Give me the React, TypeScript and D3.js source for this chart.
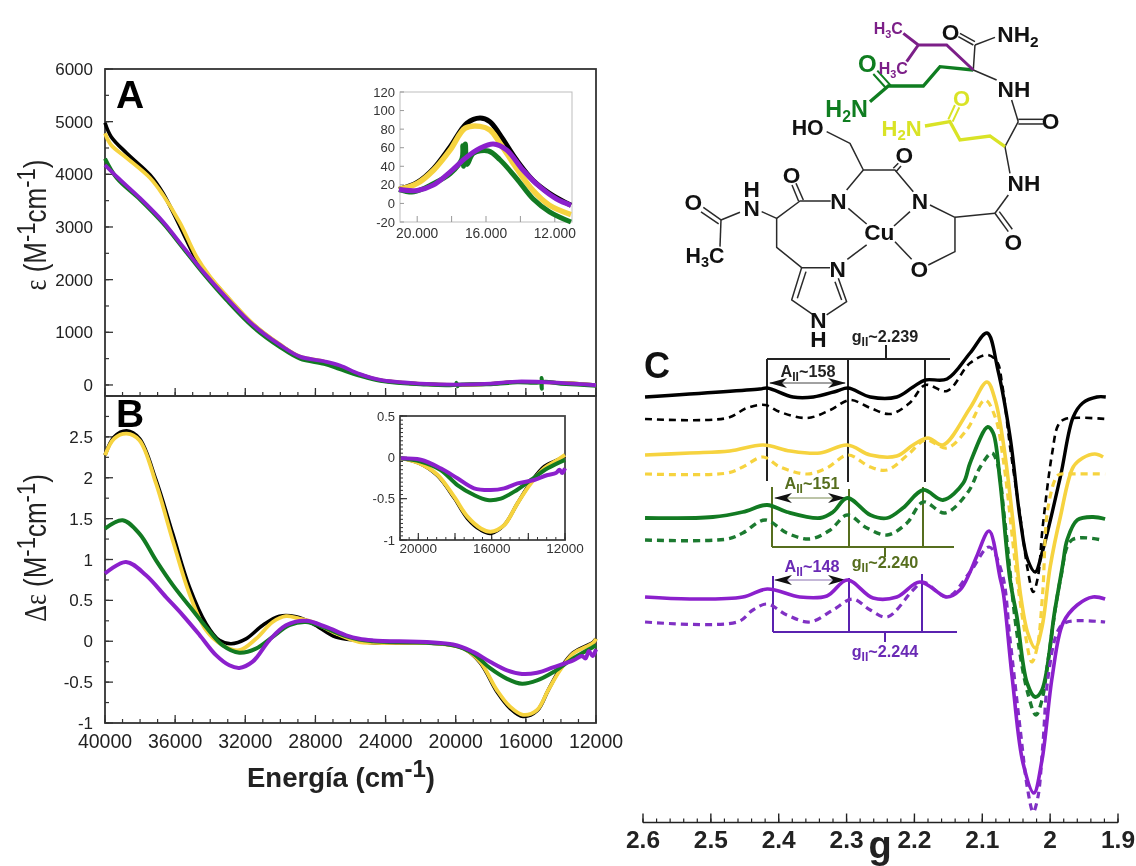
import React from "react";
import * as d3 from "d3";

type P = [number, number];

// ---------- Panel A: absorption (wavenumber cm-1, epsilon)
const absBlack: P[] = [[40000,4980],[39650,4715],[38760,4400],[37430,3987],[36690,3640],[35720,3007],[34780,2373],[34200,2120],[33060,1680],[31550,1150],[30020,760],[28880,530],[27500,440],[26600,330],[25500,200],[24300,90],[22000,20],[20000,0],[18000,20],[16500,60],[14000,40],[12000,0]];
const absYellow: P[] = [[40000,4780],[39650,4557],[38760,4310],[37430,3930],[36690,3607],[35720,3075],[34780,2436],[34010,2056],[33060,1690],[31550,1160],[30020,770],[28880,540],[27500,445],[26600,340],[25500,200],[24300,90],[22000,20],[20000,0],[18000,22],[16500,58],[14000,38],[12000,-5]];
const absGreen: P[] = [[40000,4300],[39330,3930],[38000,3520],[36690,3070],[35550,2600],[34400,2120],[33060,1610],[31550,1100],[30020,720],[28880,500],[27500,400],[26600,300],[25500,180],[24300,80],[22000,15],[20000,10],[19950,40],[19900,-25],[19850,0],[18000,15],[16500,50],[15120,60],[15100,130],[15090,-70],[15070,50],[14000,25],[12000,-15]];
const absPurple: P[] = [[40000,4177],[39330,3955],[38000,3546],[36690,3100],[35550,2626],[34400,2150],[33060,1652],[31550,1140],[30020,760],[28880,538],[27500,450],[26600,370],[25500,210],[24300,95],[22000,25],[20000,5],[18000,25],[16500,65],[14000,40],[12000,-5]];

// Inset A
const inABlack: P[] = [[21058,15],[20000,22.6],[19040,37.7],[18080,61],[17115,86.4],[16350,92],[15770,88],[15190,74],[14230,47],[13270,25],[12310,11],[11060,-2]];
const inAYellow: P[] = [[21058,15],[20000,21.5],[19040,36],[18080,57.6],[17210,81],[16350,83],[15770,79],[15190,65],[14230,38],[13270,14],[12310,-2],[11060,-12]];
const inAGreen: P[] = [[21058,15],[20190,12.5],[19040,21.5],[18080,32],[17400,48],[17350,62],[17300,40],[17200,64],[17100,42],[16730,54],[15860,56.5],[15190,47],[14230,27],[13270,5],[12310,-9],[11060,-20]];
const inAPurple: P[] = [[21058,15],[20000,14],[19040,20],[18080,34],[17115,50],[16350,59.4],[15580,64],[14800,57.6],[13850,36],[12880,18],[11920,5],[11060,-2]];

// ---------- Panel B: CD (wavenumber cm-1, delta epsilon)
const cdBlack: P[] = [[40000,2.276],[39470,2.5],[38760,2.573],[38040,2.48],[37090,1.97],[36140,1.317],[35190,0.665],[34240,0.216],[33480,0.012],[32810,-0.03],[31960,0.03],[31000,0.196],[30060,0.306],[29100,0.3],[28150,0.216],[26830,0.05],[25500,0.01],[24700,-0.02],[20900,-0.03],[19580,-0.085],[18610,-0.26],[17640,-0.62],[16900,-0.82],[16160,-0.92],[15360,-0.85],[14730,-0.6],[14050,-0.34],[13300,-0.14],[12160,-0.01],[12000,0.03]];
const cdYellow: P[] = [[40000,2.276],[39470,2.48],[38760,2.54],[38040,2.46],[37090,1.93],[36140,1.236],[35190,0.583],[34240,0.135],[33290,-0.05],[32340,-0.11],[31390,0.03],[30440,0.236],[29680,0.306],[28920,0.277],[28150,0.236],[27010,0.114],[25500,-0.01],[24700,-0.02],[20900,-0.03],[19580,-0.085],[18610,-0.25],[17640,-0.6],[16900,-0.8],[16160,-0.9],[15360,-0.84],[14730,-0.6],[14050,-0.355],[13300,-0.15],[12160,-0.02],[12000,0.03]];
const cdGreen: P[] = [[40000,1.378],[38990,1.48],[38040,1.317],[37090,0.99],[36140,0.69],[35190,0.43],[34240,0.175],[33290,-0.05],[32340,-0.14],[31390,-0.09],[30440,0.053],[29490,0.196],[28540,0.236],[27590,0.175],[26640,0.09],[25500,0.02],[24700,0],[20150,-0.05],[19010,-0.15],[18040,-0.33],[17070,-0.46],[16220,-0.52],[15360,-0.48],[14450,-0.38],[13300,-0.21],[12160,-0.07],[12000,-0.05]];
const cdPurple: P[] = [[40000,0.828],[38800,0.97],[37660,0.807],[36520,0.54],[35570,0.32],[34620,0.08],[33670,-0.17],[32910,-0.294],[32340,-0.326],[31580,-0.25],[30630,0.012],[29680,0.196],[28540,0.25],[27390,0.175],[26250,0.073],[25500,0.03],[24700,0.01],[20150,-0.04],[19010,-0.13],[18040,-0.25],[17070,-0.355],[16220,-0.4],[15360,-0.385],[14450,-0.32],[13300,-0.235],[12800,-0.18],[12600,-0.21],[12400,-0.12],[12200,-0.18],[12000,-0.1]];

// Inset B
const inBBlack: P[] = [[20965,-0.012],[19960,-0.07],[18960,-0.22],[18050,-0.49],[17320,-0.74],[16590,-0.88],[16050,-0.92],[15320,-0.82],[14590,-0.556],[13860,-0.3],[13130,-0.11],[12400,-0.03],[12000,0.02]];
const inBYellow: P[] = [[20965,-0.012],[19960,-0.07],[18960,-0.21],[18050,-0.476],[17320,-0.718],[16590,-0.86],[16050,-0.9],[15320,-0.82],[14590,-0.556],[13860,-0.315],[13130,-0.133],[12400,-0.03],[12000,0.03]];
const inBGreen: P[] = [[20965,-0.012],[19870,-0.05],[18780,-0.153],[17870,-0.335],[16960,-0.456],[16230,-0.516],[15500,-0.5],[14770,-0.415],[13860,-0.274],[12950,-0.133],[12000,-0.03]];
const inBPurple: P[] = [[20965,-0.012],[19870,-0.03],[18780,-0.133],[17870,-0.254],[16960,-0.375],[16050,-0.395],[15320,-0.375],[14590,-0.315],[13680,-0.274],[12950,-0.214],[12500,-0.19],[12300,-0.15],[12150,-0.19],[12000,-0.133]];

// ---------- Panel C: EPR (g value, offset intensity)
const eprBlack: P[] = [[2.597,425],[2.428,433],[2.417,434],[2.379,425],[2.349,425],[2.314,431],[2.298,434],[2.265,425],[2.226,425],[2.202,435],[2.184,442],[2.152,443],[2.118,469],[2.093,489],[2.077,452],[2.059,385],[2.044,302],[2.033,262],[2.022,250],[2.012,269],[1.985,345],[1.966,405],[1.952,419],[1.931,425],[1.918,425]];
const eprBlackD: P[] = [[2.597,403],[2.476,404],[2.447,414],[2.420,417],[2.398,410],[2.358,404],[2.324,412],[2.295,422],[2.265,414],[2.236,408],[2.207,419],[2.184,437],[2.152,431],[2.118,459],[2.092,467],[2.078,460],[2.071,439],[2.059,375],[2.044,305],[2.033,252],[2.025,230],[2.018,245],[2.011,295],[1.997,369],[1.988,397],[1.978,403],[1.918,403]];
const eprYellow: P[] = [[2.597,367],[2.531,369],[2.472,371],[2.423,377],[2.383,371],[2.339,369],[2.299,377],[2.265,367],[2.226,366],[2.202,377],[2.180,384],[2.158,377],[2.118,414],[2.093,440],[2.081,422],[2.069,379],[2.055,302],[2.044,229],[2.033,189],[2.022,174],[2.012,195],[2.000,255],[1.985,305],[1.966,355],[1.952,364],[1.934,368],[1.922,365]];
const eprYellowD: P[] = [[2.597,348],[2.476,349],[2.453,355],[2.423,365],[2.398,355],[2.358,348],[2.329,354],[2.298,367],[2.265,355],[2.240,352],[2.207,369],[2.184,382],[2.152,374],[2.123,392],[2.096,422],[2.081,405],[2.069,362],[2.049,245],[2.037,189],[2.027,160],[2.019,175],[2.011,229],[2.003,315],[1.988,347],[1.975,348],[1.919,348]];
const eprGreen: P[] = [[2.597,304],[2.497,305],[2.453,310],[2.417,317],[2.388,310],[2.339,304],[2.320,310],[2.299,324],[2.265,307],[2.240,304],[2.217,314],[2.187,332],[2.158,322],[2.128,339],[2.118,359],[2.092,395],[2.084,389],[2.074,342],[2.059,242],[2.049,205],[2.034,139],[2.022,125],[2.012,132],[1.993,212],[1.981,259],[1.975,282],[1.960,302],[1.937,305],[1.919,303]];
const eprGreenD: P[] = [[2.597,282],[2.476,283],[2.453,289],[2.420,302],[2.388,289],[2.354,283],[2.324,292],[2.299,307],[2.270,294],[2.240,287],[2.211,299],[2.187,320],[2.155,309],[2.121,330],[2.103,355],[2.086,369],[2.078,359],[2.067,302],[2.049,189],[2.033,129],[2.021,107],[2.012,122],[2.003,162],[1.985,242],[1.968,282],[1.924,282]];
const eprPurple: P[] = [[2.597,225],[2.531,223],[2.453,225],[2.417,233],[2.369,225],[2.329,226],[2.299,242],[2.261,224],[2.226,225],[2.192,240],[2.152,225],[2.133,232],[2.118,250],[2.108,266],[2.090,291],[2.074,245],[2.069,229],[2.056,145],[2.040,59],[2.024,29],[2.012,62],[1.997,145],[1.981,199],[1.960,217],[1.937,225],[1.919,223]];
const eprPurpleD: P[] = [[2.597,200],[2.461,200],[2.438,212],[2.417,218],[2.388,207],[2.354,200],[2.320,212],[2.291,223],[2.265,212],[2.240,205],[2.202,232],[2.187,240],[2.152,225],[2.118,250],[2.090,275],[2.071,249],[2.059,182],[2.044,92],[2.033,32],[2.025,10],[2.018,25],[2.011,75],[2.003,145],[1.988,192],[1.975,200],[1.919,200]];

const tickYA = d3.range(0, 6001, 1000);
const tickYB = [-1, -0.5, 0, 0.5, 1, 1.5, 2, 2.5];
const tickX = d3.range(40000, 11999, -4000);
const tickInAY = d3.range(-20, 121, 20);
const tickInAX = [20000, 16000, 12000];
const tickInBY = [0.5, 0, -0.5, -1];
const tickInBX = [20000, 16000, 12000];
const tickG = [2.6, 2.5, 2.4, 2.3, 2.2, 2.1, 2, 1.9];

const BLACK = "#000000";
const YELLOW = "#f6d33f";
const GREEN = "#127a22";
const PURPLE = "#8b20cc";
const SANS = "'Liberation Sans', Arial, sans-serif";

const xMain = d3.scaleLinear().domain([40000, 12000]).range([105, 596]);
const yA = d3.scaleLinear().domain([-200, 6000]).range([395.5, 69]);
const yB = d3.scaleLinear().domain([-1, 3]).range([723, 396]);
const xInA = d3.scaleLinear().domain([21000, 11000]).range([400, 572]);
const yInA = d3.scaleLinear().domain([-20, 120]).range([222, 92]);
const xInB = d3.scaleLinear().domain([21000, 12000]).range([400, 565]);
const yInB = d3.scaleLinear().domain([-1, 0.5]).range([540, 416]);
const xG = d3.scaleLinear().domain([2.6, 1.9]).range([643, 1118]);
const yE = d3.scaleLinear().domain([0, 800]).range([822, 22]);

function Curve({ data, x, y, color, w, dash }: { data: P[]; x: any; y: any; color: string; w: number; dash?: string }) {
  const gen = d3.line<P>().x((d) => x(d[0])).y((d) => y(d[1])).curve(d3.curveCatmullRom.alpha(0.5));
  return <path d={gen(data) || ""} fill="none" stroke={color} strokeWidth={w} strokeDasharray={dash} strokeLinejoin="round" />;
}

function Ticks({ vals, scale, at, dir, len, orient, color, w }: { vals: number[]; scale: any; at: number; dir: number; len: number; orient: "x" | "y"; color: string; w: number }) {
  return (
    <g stroke={color} strokeWidth={w}>
      {vals.map((v, i) =>
        orient === "x" ? (
          <line key={i} x1={scale(v)} x2={scale(v)} y1={at} y2={at + dir * len} />
        ) : (
          <line key={i} y1={scale(v)} y2={scale(v)} x1={at} x2={at + dir * len} />
        )
      )}
    </g>
  );
}

function Sub({ a, b, c, x, y, size, color, anchor = "middle", weight = "bold", ratio = 0.68, shift = 0.22 }: any) {
  const s = size * ratio;
  return (
    <text x={x} y={y} fontSize={size} fill={color} textAnchor={anchor} fontWeight={weight} fontFamily={SANS}>
      {a}
      <tspan fontSize={s} dy={size * shift}>{b}</tspan>
      <tspan fontSize={size} dy={-size * shift}>{c ?? ""}</tspan>
    </text>
  );
}

function Hyper({ label, sub, rest, x, y, color }: any) {
  return <Sub a={label} b={sub} c={rest} x={x} y={y} size={16.2} color={color} ratio={0.75} />;
}

function Molecule() {
  const thin = { stroke: "#2a2a2a", strokeWidth: 4.5, fill: "none", strokeLinejoin: "round" as const };
  const bonds = [
    "M190 622L243 660", "M183 636L236 672", "M243 660L300 637", "M243 660L240 740",
    "M365 635L410 655L480 603L572 603", "M490 600L468 550", "M476 604L456 555",
    "M410 655L410 742L485 803L570 803", "M485 803L455 900L520 945", "M498 815L472 895", "M595 835L620 905L560 945", "M585 845L605 900",
    "M620 570L670 510L630 430L560 395", "M670 510L765 510L820 575", "M760 505L775 490", "M768 515L783 498",
    "M625 625L680 672", "M810 635L762 678", "M680 735L622 778", "M765 725L815 778", "M865 795L945 755L945 652L870 615", "M945 652L1065 640",
    "M1065 640L1105 695", "M1078 635L1117 688", "M1065 640L1105 585", "M1110 520L1095 440L1135 365", "M1135 358L1210 358", "M1135 372L1210 372", "M1135 365L1115 300",
    "M1070 240L1000 210L1005 135", "M1000 135L955 110", "M1005 125L960 100", "M1005 135L1065 112",
  ];
  const T = ({ x, y, s = 68, c = "#111", t }: any) => (
    <text x={x} y={y} fontSize={s} fill={c} fontWeight="bold" fontFamily={SANS} textAnchor="middle">{t}</text>
  );
  const gc = "#0f7d20", yc = "#d9e326", pc = "#7c1f88";
  return (
    <g transform="translate(640 0) scale(0.3333)">
      {bonds.map((d, i) => <path key={i} d={d} {...thin} />)}
      <path d="M1000 210L900 200L850 258L745 258L690 305" fill="none" stroke={gc} strokeWidth={10} />
      <path d="M752 256L712 212M738 264L700 222" fill="none" stroke={gc} strokeWidth={6} />
      <path d="M1095 440L1050 408L960 420L930 365L855 378" fill="none" stroke={yc} strokeWidth={10} />
      <path d="M938 365L958 322M925 358L945 315" fill="none" stroke={yc} strokeWidth={6} />
      <path d="M1000 210L920 135L835 135L790 100M835 135L800 185" fill="none" stroke={pc} strokeWidth={9} />
      <T x={160} y={630} t="O" /><T x={335} y={648} t="N" /><T x={335} y={592} t="H" />
      <Sub a="H" b="3" c="C" x={195} y={788} size={64} color="#111" />
      <T x={455} y={550} t="O" /><T x={595} y={628} t="N" /><T x={593} y={830} t="N" />
      <T x={503} y={405} t="HO" s={64} /><T x={793} y={488} t="O" /><T x={840} y={628} t="N" />
      <T x={718} y={720} t="Cu" s={68} /><T x={838} y={830} t="O" /><T x={1120} y={750} t="O" />
      <T x={1152} y={574} t="NH" /><T x={1232} y={387} t="O" /><T x={1122} y={290} t="NH" />
      <T x={932} y={120} t="O" />
      <Sub a="NH" b="2" x={1072} y={125} size={68} color="#111" anchor="start" />
      <T x={535} y={985} t="N" /><T x={535} y={1040} t="H" />
      <T x={682} y={216} t="O" c={gc} s={72} />
      <Sub a="H" b="2" c="N" x={620} y={352} size={70} color={gc} />
      <T x={965} y={318} t="O" c={yc} s={66} />
      <Sub a="H" b="2" c="N" x={785} y={407} size={66} color={yc} />
      <Sub a="H" b="3" c="C" x={745} y={102} size={48} color={pc} />
      <Sub a="H" b="3" c="C" x={760} y={222} size={48} color={pc} />
    </g>
  );
}

function YLabel({ lead, cy }: { lead: string; cy: number }) {
  return (
    <text transform={`translate(46 ${cy}) rotate(-90) scale(1 1.18)`} textAnchor="middle" fontSize={26} fill="#222">
      <tspan fontFamily="'Liberation Serif', serif">{lead}</tspan> (M<tspan dy={-9} fontSize={22}>-1</tspan><tspan dy={9}>cm</tspan><tspan dy={-9} fontSize={22}>-1</tspan><tspan dy={9}>)</tspan>
    </text>
  );
}

export default function App() {
  const axisC = "#333";
  const minorX = d3.range(40000, 11999, -1000);
  return (
    <svg width={1136} height={866} viewBox="0 0 1136 866" style={{ position: "absolute", left: 0, top: 0, background: "#fff", filter: "blur(0.45px)" }} fontFamily={SANS}>
      <defs>
        <marker id="arrow" markerUnits="userSpaceOnUse" markerWidth="20" markerHeight="12" refX="17" refY="5" orient="auto-start-reverse">
          <path d="M0 0L18 5L0 10L5 5Z" fill="#111" />
        </marker>
      </defs>

      {/* Panel A */}
      <rect x={105} y={69} width={491} height={327} fill="none" stroke={axisC} strokeWidth={1.8} />
      <Ticks vals={d3.range(0, 6001, 500)} scale={yA} at={105} dir={1} len={4} orient="y" color={axisC} w={1.2} />
      <Ticks vals={tickYA} scale={yA} at={105} dir={1} len={8} orient="y" color={axisC} w={1.3} />
      <Ticks vals={minorX} scale={xMain} at={396} dir={-1} len={4} orient="x" color={axisC} w={1.2} />
      <Ticks vals={tickX} scale={xMain} at={396} dir={-1} len={8} orient="x" color={axisC} w={1.3} />
      {tickYA.map((v) => (
        <text key={v} x={93} y={yA(v) + 6} textAnchor="end" fontSize={17} fill="#222">{v}</text>
      ))}
      <Curve data={absBlack} x={xMain} y={yA} color={BLACK} w={3.6} />
      <Curve data={absYellow} x={xMain} y={yA} color={YELLOW} w={3.8} />
      <Curve data={absGreen} x={xMain} y={yA} color={GREEN} w={4} />
      <Curve data={absPurple} x={xMain} y={yA} color={PURPLE} w={3.8} />
      <text x={116} y={108} fontSize={39} fontWeight="bold" fill="#000">A</text>

      {/* Inset A */}
      <rect x={400} y={92} width={172} height={130} fill="#fff" stroke="#bdbdbd" strokeWidth={1} />
      <Ticks vals={tickInAY} scale={yInA} at={400} dir={1} len={4} orient="y" color="#999" w={1} />
      <Ticks vals={d3.range(20000, 11999, -2000)} scale={xInA} at={222} dir={-1} len={6} orient="x" color="#999" w={1} />
      {tickInAY.map((v) => (
        <text key={v} x={395} y={yInA(v) + 4.5} textAnchor="end" fontSize={13} fill="#333">{v}</text>
      ))}
      {tickInAX.map((v) => (
        <text key={v} x={xInA(v)} y={238} textAnchor="middle" fontSize={13.8} fill="#333">{d3.format(",")(v).replace(",", ".")}</text>
      ))}
      <Curve data={inABlack} x={xInA} y={yInA} color={BLACK} w={5} />
      <Curve data={inAYellow} x={xInA} y={yInA} color={YELLOW} w={5.5} />
      <Curve data={inAGreen} x={xInA} y={yInA} color={GREEN} w={5} />
      <Curve data={inAPurple} x={xInA} y={yInA} color={PURPLE} w={5} />

      {/* Panel B */}
      <rect x={105} y={396} width={491} height={327} fill="none" stroke={axisC} strokeWidth={1.8} />
      <Ticks vals={d3.range(-1, 3.01, 0.25)} scale={yB} at={105} dir={1} len={4} orient="y" color={axisC} w={1.2} />
      <Ticks vals={d3.range(-1, 3.01, 0.5)} scale={yB} at={105} dir={1} len={8} orient="y" color={axisC} w={1.3} />
      <Ticks vals={minorX} scale={xMain} at={723} dir={-1} len={4} orient="x" color={axisC} w={1.2} />
      <Ticks vals={tickX} scale={xMain} at={723} dir={-1} len={8} orient="x" color={axisC} w={1.3} />
      {tickYB.map((v) => (
        <text key={v} x={93} y={yB(v) + 6} textAnchor="end" fontSize={17} fill="#222">{v}</text>
      ))}
      {tickX.map((v) => (
        <text key={v} x={xMain(v)} y={748} textAnchor="middle" fontSize={19.5} fill="#222">{v}</text>
      ))}
      <Curve data={cdBlack} x={xMain} y={yB} color={BLACK} w={3.6} />
      <Curve data={cdYellow} x={xMain} y={yB} color={YELLOW} w={3.8} />
      <Curve data={cdGreen} x={xMain} y={yB} color={GREEN} w={4} />
      <Curve data={cdPurple} x={xMain} y={yB} color={PURPLE} w={4} />
      <text x={116} y={427} fontSize={39} fontWeight="bold" fill="#000">B</text>

      {/* Inset B */}
      <rect x={400} y={416} width={165} height={124} fill="#fff" stroke="#444" strokeWidth={1.8} />
      <Ticks vals={d3.range(-1, 0.51, 0.05)} scale={yInB} at={400} dir={1} len={3} orient="y" color="#333" w={1} />
      <Ticks vals={tickInBY} scale={yInB} at={400} dir={1} len={7} orient="y" color="#333" w={1.2} />
      <Ticks vals={d3.range(21000, 11999, -500)} scale={xInB} at={540} dir={-1} len={3} orient="x" color="#333" w={1} />
      <Ticks vals={d3.range(20000, 11999, -2000)} scale={xInB} at={540} dir={-1} len={7} orient="x" color="#333" w={1.2} />
      {tickInBY.map((v) => (
        <text key={v} x={395} y={yInB(v) + 4.5} textAnchor="end" fontSize={13} fill="#333">{v}</text>
      ))}
      {tickInBX.map((v) => (
        <text key={v} x={xInB(v)} y={553} textAnchor="middle" fontSize={13.5} fill="#333">{v}</text>
      ))}
      <Curve data={inBBlack} x={xInB} y={yInB} color={BLACK} w={3.5} />
      <Curve data={inBYellow} x={xInB} y={yInB} color={YELLOW} w={4} />
      <Curve data={inBGreen} x={xInB} y={yInB} color={GREEN} w={4} />
      <Curve data={inBPurple} x={xInB} y={yInB} color={PURPLE} w={4} />

      {/* Axis titles */}
      <text x={247} y={787} fontSize={27.5} fontWeight="bold" fill="#222">
        Energía (cm<tspan dy={-10} fontSize={24}>-1</tspan><tspan dy={10}>)</tspan>
      </text>
      <YLabel lead="ε" cy={225} />
      <YLabel lead="Δε" cy={548} />

      <Molecule />

      {/* Panel C */}
      <text x={644} y={378} fontSize={36} fontWeight="bold" fill="#111">C</text>

      <g stroke="#222" strokeWidth={2} fill="none">
        <path d="M767 359H950M767 359V481M848 359V482M925 359V482M886 345V359" />
      </g>
      <Hyper label="g" sub="II" rest="~2.239" x={885} y={342} color="#222" />
      <Hyper label="A" sub="II" rest="~158" x={808} y={377} color="#222" />
      <line x1={770} x2={845} y1={383} y2={383} stroke="#444" strokeWidth={1} markerStart="url(#arrow)" markerEnd="url(#arrow)" />

      <g stroke="#566e1e" strokeWidth={2} fill="none">
        <path d="M772 547H954M772 487V547M849 489V547M923 487V547M885 547V557" />
      </g>
      <Hyper label="g" sub="II" rest="~2.240" x={885} y={568} color="#566e1e" />
      <Hyper label="A" sub="II" rest="~151" x={812} y={489} color="#566e1e" />
      <line x1={775} x2={845} y1={498} y2={498} stroke="#7a8a50" strokeWidth={1} markerStart="url(#arrow)" markerEnd="url(#arrow)" />

      <g stroke="#5a22b0" strokeWidth={2} fill="none">
        <path d="M773 632H957M773 576V632M849 578V632M922 574V632M885 632V642" />
      </g>
      <Hyper label="g" sub="II" rest="~2.244" x={885} y={657} color="#6a2ab5" />
      <Hyper label="A" sub="II" rest="~148" x={812} y={572} color="#6a2ab5" />
      <line x1={775} x2={845} y1={580} y2={580} stroke="#8a70b0" strokeWidth={1} markerStart="url(#arrow)" markerEnd="url(#arrow)" />

      <Curve data={eprBlackD} x={xG} y={yE} color={BLACK} w={2.6} dash="7 5" />
      <Curve data={eprBlack} x={xG} y={yE} color={BLACK} w={3.4} />
      <Curve data={eprYellowD} x={xG} y={yE} color={YELLOW} w={3.2} dash="7 5" />
      <Curve data={eprYellow} x={xG} y={yE} color={YELLOW} w={3.6} />
      <Curve data={eprGreenD} x={xG} y={yE} color="#1c7a30" w={3.4} dash="7 5" />
      <Curve data={eprGreen} x={xG} y={yE} color={GREEN} w={3.8} />
      <Curve data={eprPurpleD} x={xG} y={yE} color="#8030c4" w={3.2} dash="7 5" />
      <Curve data={eprPurple} x={xG} y={yE} color={PURPLE} w={3.6} />

      {/* g axis */}
      <line x1={xG(2.6)} x2={xG(1.9)} y1={822.5} y2={822.5} stroke="#222" strokeWidth={1.6} />
      <Ticks vals={d3.range(0, 36).map((i) => 2.6 - i * 0.02)} scale={xG} at={822.5} dir={-1} len={4} orient="x" color="#222" w={1.2} />
      <Ticks vals={tickG} scale={xG} at={822.5} dir={-1} len={9} orient="x" color="#222" w={1.4} />
      {tickG.map((v) => (
        <text key={v} x={xG(v)} y={848} textAnchor="middle" fontSize={24.5} fontWeight="bold" fill="#222">{v}</text>
      ))}
      <text x={880} y={857.5} textAnchor="middle" fontSize={38} fontWeight="bold" fill="#222">g</text>
    </svg>
  );
}
